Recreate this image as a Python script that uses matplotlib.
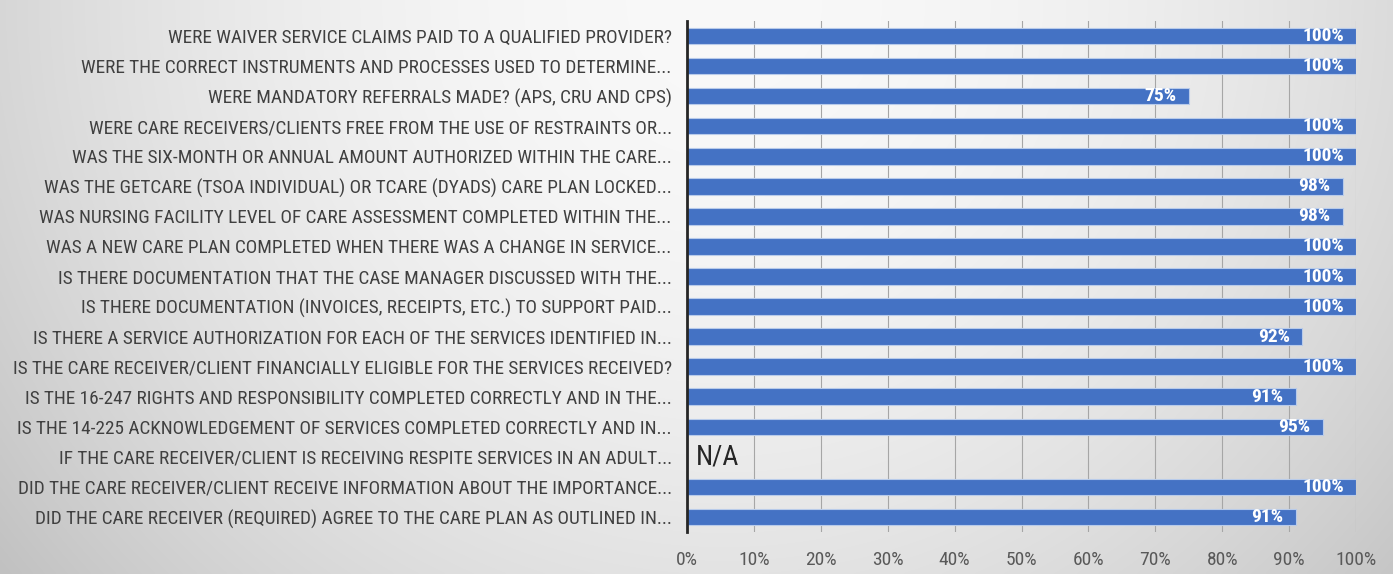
import numpy as np
import matplotlib
matplotlib.use('Agg')
import matplotlib.pyplot as plt
from matplotlib import font_manager

questions = [
    "WERE WAIVER SERVICE CLAIMS PAID TO A QUALIFIED PROVIDER?",
    "WERE THE CORRECT INSTRUMENTS AND PROCESSES USED TO DETERMINE...",
    "WERE MANDATORY REFERRALS MADE? (APS, CRU AND CPS)",
    "WERE CARE RECEIVERS/CLIENTS FREE FROM THE USE OF RESTRAINTS OR...",
    "WAS THE SIX-MONTH OR ANNUAL AMOUNT AUTHORIZED WITHIN THE CARE...",
    "WAS THE GETCARE (TSOA INDIVIDUAL) OR TCARE (DYADS) CARE PLAN LOCKED...",
    "WAS NURSING FACILITY LEVEL OF CARE ASSESSMENT COMPLETED WITHIN THE...",
    "WAS A NEW CARE PLAN COMPLETED WHEN THERE WAS A CHANGE IN SERVICE...",
    "IS THERE DOCUMENTATION THAT THE CASE MANAGER DISCUSSED WITH THE...",
    "IS THERE DOCUMENTATION (INVOICES, RECEIPTS, ETC.) TO SUPPORT PAID...",
    "IS THERE A SERVICE AUTHORIZATION FOR EACH OF THE SERVICES IDENTIFIED IN...",
    "IS THE CARE RECEIVER/CLIENT FINANCIALLY ELIGIBLE FOR THE SERVICES RECEIVED?",
    "IS THE 16-247 RIGHTS AND RESPONSIBILITY COMPLETED CORRECTLY AND IN THE...",
    "IS THE 14-225 ACKNOWLEDGEMENT OF SERVICES COMPLETED CORRECTLY AND IN...",
    "IF THE CARE RECEIVER/CLIENT IS RECEIVING RESPITE SERVICES IN AN ADULT...",
    "DID THE CARE RECEIVER/CLIENT RECEIVE INFORMATION ABOUT THE IMPORTANCE...",
    "DID THE CARE RECEIVER (REQUIRED) AGREE TO THE CARE PLAN AS OUTLINED IN...",
]
# percent compliance, None = N/A
scores = [100, 100, 75, 100, 100, 98, 98, 100, 100, 100, 92, 100, 91, 95, None, 100, 91]
xticks = [0, 10, 20, 30, 40, 50, 60, 70, 80, 90, 100]

# look for a narrow font, Calibri-like
stretch = 'normal'
family = 'DejaVu Sans'
for fam, st in [('Roboto Condensed', 'normal'), ('Open Sans Condensed', 'normal'),
                ('Liberation Sans Narrow', 'normal'), ('DejaVu Sans', 'condensed'),
                ('Open Sans', 'condensed'), ('Noto Sans', 'condensed')]:
    fp = font_manager.FontProperties(family=fam, stretch=st)
    try:
        path = font_manager.findfont(fp, fallback_to_default=False)
    except Exception:
        continue
    low = path.lower()
    if 'condensed' in low or 'narrow' in low or 'cond' in low:
        family, stretch = fam, st
        break

plt.rcParams['font.family'] = [family, 'DejaVu Sans']
plt.rcParams['font.stretch'] = stretch

fig = plt.figure(figsize=(13.93, 5.74), dpi=100)

# grey gradient background
bg = fig.add_axes([0, 0, 1, 1], zorder=0)
yy, xx = np.mgrid[0:1:300j, 0:1:700j]
d = np.sqrt(((xx - 0.52) / 0.62) ** 2 + ((yy - 0.0) / 1.5) ** 2)
shade = 0.975 - 0.19 * d ** 2
shade = np.clip(shade, 0.75, 0.975)
bg.imshow(np.dstack([shade, shade, shade]), aspect='auto', extent=[0, 1, 0, 1],
          origin='upper', interpolation='bilinear')
bg.axis('off')

ax = fig.add_axes([687 / 1393, 1 - 532 / 574, (1356 - 687) / 1393, (532 - 21) / 574], zorder=1)
ax.patch.set_alpha(0)

y = np.arange(len(questions))
vals = [s if s is not None else 0 for s in scores]
ax.barh(y, vals, height=0.55, color='#4472C4', edgecolor='#b8cbea', linewidth=0.8, zorder=3)

for i, s in enumerate(scores):
    if s is None:
        ax.text(1.4, i, 'N/A', ha='left', va='center', fontsize=20, color='#262626', zorder=4)
    else:
        ax.text(s - 1.8, i, f'{s}%', ha='right', va='center', fontsize=14,
                fontweight='bold', color='white', zorder=4)

ax.set_xlim(0, 100)
ax.set_ylim(len(questions) - 0.5, -0.5)
ax.set_xticks(xticks)
ax.set_xticklabels([f'{t}%' for t in xticks], fontsize=14, color='#595959')
ax.set_yticks(y)
ax.set_yticklabels(questions, fontsize=13.9, color='#404040')
ax.tick_params(axis='both', length=0)
ax.tick_params(axis='x', pad=14)
ax.tick_params(axis='y', pad=11)
ax.grid(axis='x', color='#a6a6a6', linewidth=0.8, zorder=1)
for sp in ['top', 'right', 'bottom']:
    ax.spines[sp].set_visible(False)
ax.spines['left'].set_color('#262626')
ax.spines['left'].set_linewidth(2)
ax.spines['left'].set_zorder(5)

fig.savefig('out.png', dpi=100)
